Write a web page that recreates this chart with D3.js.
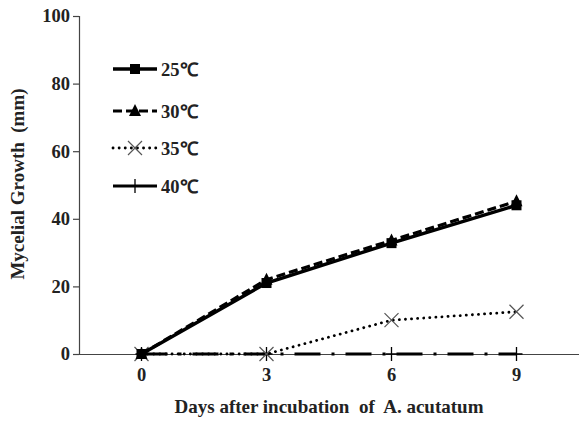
<!DOCTYPE html>
<meta charset="utf-8">
<head>
  <script src="https://d3js.org/d3.v7.min.js"></script>
  <style>
    html, body { margin: 0; padding: 0; background: #fff; }
    text { font-family: "Liberation Serif", "Times New Roman", serif; font-weight: bold; fill: #222; white-space: pre; }
  </style>
</head>
<body>
<svg id="chart" width="579" height="422"></svg>
<script>
  const days = ["0", "3", "6", "9"]
  const yTicks = [0, 20, 40, 60, 80, 100]
  const seriesNames = ["25℃", "30℃", "35℃", "40℃"]
  const t25 = [0, 21, 32.8, 44]
  const t30 = [0, 22, 33.6, 45.2]
  const t35 = [0, 0, 10, 12.5]
  const t40 = [0, 0, 0, 0]

  const svg = d3.select("#chart")
  const margin = { top: 16, left: 79, right: 0, bottom: 68 }
  const width = 579, height = 422

  const x = d3.scaleBand().domain(days).range([margin.left, margin.left + 500])
  const y = d3.scaleLinear().domain([0, 100]).range([354, 16])
  const cx = d => x(d) + x.bandwidth() / 2

  // axes
  const yAxis = svg.append("g")
    .attr("transform", "translate(" + margin.left + ",0)")
    .call(d3.axisLeft(y).tickValues(yTicks).tickSize(6).tickPadding(3))
  yAxis.select(".domain").attr("stroke", "#444").attr("stroke-width", 1.2)
  yAxis.selectAll(".tick line").attr("stroke", "#444").attr("stroke-width", 1.2)
  yAxis.selectAll("text").style("font-size", "18.5px").attr("fill", "#222")

  const xAxis = svg.append("g")
    .attr("transform", "translate(0," + y(0) + ")")
    .call(d3.axisBottom(x).tickSize(0).tickPadding(14))
  xAxis.select(".domain").attr("stroke", "#444").attr("stroke-width", 1.2)
  xAxis.selectAll("text").style("font-size", "18.5px").attr("fill", "#222")

  svg.append("text")
    .attr("transform", "translate(24,184) rotate(-90)")
    .attr("text-anchor", "middle")
    .style("font-size", "19px")
    .text("Mycelial Growth  (mm)")

  svg.append("text")
    .attr("x", 329).attr("y", 413)
    .attr("text-anchor", "middle")
    .style("font-size", "19px")
    .text("Days after incubation  of  A. acutatum")

  const line = d3.line().x((d, i) => cx(days[i])).y(d => y(d))

  const styles = [
    { data: t25, width: 3.4, dash: null, marker: "square", color: "#000" },
    { data: t30, width: 3.2, dash: "9,4", marker: "triangle", color: "#000" },
    { data: t35, width: 2.8, dash: "0.1,6", cap: "round", marker: "x", color: "#000" },
    { data: t40, width: 2.8, dash: "26,11,3,11", marker: "plus", color: "#000" }
  ]

  function drawMarker(g, type, px, py) {
    if (type === "square") {
      g.append("rect").attr("x", px - 5).attr("y", py - 5).attr("width", 10).attr("height", 10).attr("fill", "#000")
    } else if (type === "triangle") {
      g.append("path").attr("d", `M${px},${py - 7}L${px + 6},${py + 5}L${px - 6},${py + 5}Z`).attr("fill", "#000")
    } else if (type === "x") {
      g.append("path").attr("d", `M${px - 7},${py - 7}L${px + 7},${py + 7}M${px - 7},${py + 7}L${px + 7},${py - 7}`)
        .attr("stroke", "#555").attr("stroke-width", 1.2)
    } else if (type === "plus") {
      g.append("path").attr("d", `M${px - 6},${py}L${px + 6},${py}M${px},${py - 7}L${px},${py + 7}`)
        .attr("stroke", "#000").attr("stroke-width", 1.3)
    }
  }

  // draw from bottom series upward
  for (let k = styles.length - 1; k >= 0; k--) {
    const s = styles[k]
    const g = svg.append("g")
    g.append("path")
      .attr("d", line(s.data))
      .attr("fill", "none")
      .attr("stroke", s.color)
      .attr("stroke-width", s.width)
      .attr("stroke-dasharray", s.dash)
      .attr("stroke-linecap", s.cap || "butt")
    s.data.forEach((v, i) => drawMarker(g, s.marker, cx(days[i]), y(v)))
  }

  // legend
  const legY = [69, 111, 148, 186]
  styles.forEach((s, k) => {
    const g = svg.append("g")
    g.append("line")
      .attr("x1", 113).attr("x2", 157)
      .attr("y1", legY[k]).attr("y2", legY[k])
      .attr("stroke", s.color)
      .attr("stroke-width", s.width)
      .attr("stroke-dasharray", k === 3 ? null : s.dash)
      .attr("stroke-linecap", s.cap || "butt")
    drawMarker(g, s.marker, 135, legY[k])
    g.append("text")
      .attr("x", 161).attr("y", legY[k] + 7)
      .style("font-size", "18.5px")
      .text(seriesNames[k])
  })
</script>
</body>
